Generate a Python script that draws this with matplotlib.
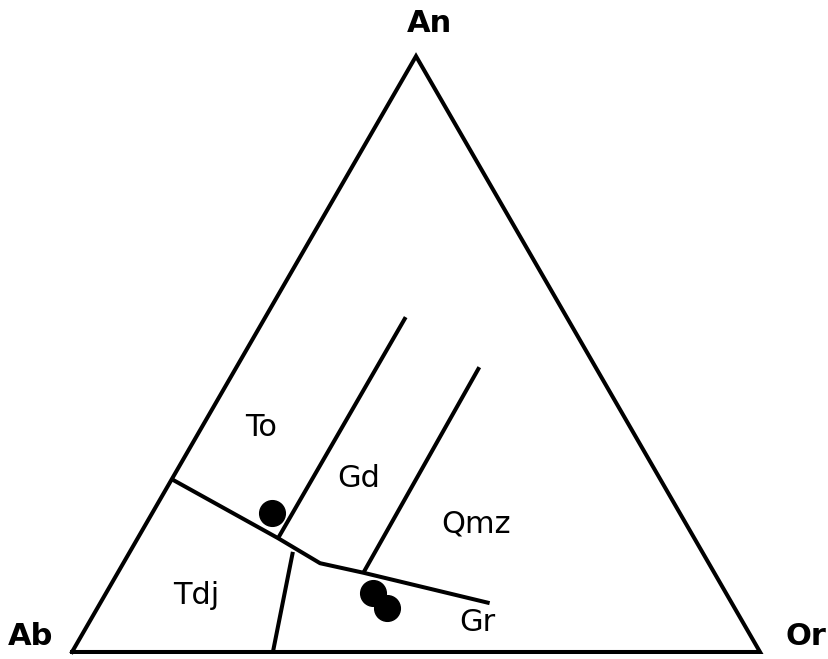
import numpy as np
import matplotlib
matplotlib.use("Agg")
import matplotlib.pyplot as plt

# -----------------------------
# Data (ternary percentages: An, Or; Ab = 100 - An - Or)
# -----------------------------
# Tdj / To / Gd / Qmz lower boundary (polyline)
lower_an = [29.0, 19.1, 14.9, 13.3, 8.2]
lower_or = [0.0, 20.4, 28.6, 35.7, 56.6]

# To / Gd boundary
togd_an = [19.1, 56.2]
togd_or = [20.4, 20.4]

# Gd / Qmz boundary
gdqmz_an = [13.3, 47.8]
gdqmz_or = [35.7, 35.3]

# Tdj / Gr boundary
tdjgr_an = [16.8, 0.0]
tdjgr_or = [23.7, 29.2]

# Samples
sample_an = [23.3, 9.9, 7.4]
sample_or = [17.4, 38.8, 42.1]

# Field labels
field_names = ["To", "Gd", "Qmz", "Tdj", "Gr"]
field_an = [37.6, 29.2, 21.5, 9.4, 4.9]
field_or = [8.7, 27.1, 48.0, 13.3, 56.4]

vertex_names = ["An", "Ab", "Or"]


def tern(an, orth):
    an = np.asarray(an) / 100.0
    orth = np.asarray(orth) / 100.0
    return orth + an / 2.0, an * np.sqrt(3) / 2.0


fig = plt.figure(figsize=(8.29, 6.59), dpi=100)
ax = fig.add_axes([0, 0, 1, 1])
ax.set_xlim(-0.1047, 1.1003)
ax.set_ylim(-0.0102, 0.9477)
ax.axis("off")

lw = 2.9
# Triangle frame
tx, ty = tern([0, 100, 0, 0], [0, 0, 100, 0])
ax.plot(tx, ty, color="black", lw=lw, solid_joinstyle="miter")

for an, orth in [(lower_an, lower_or), (togd_an, togd_or),
                 (gdqmz_an, gdqmz_or), (tdjgr_an, tdjgr_or)]:
    x, y = tern(an, orth)
    ax.plot(x, y, color="black", lw=lw, solid_capstyle="butt")

sx, sy = tern(sample_an, sample_or)
ax.plot(sx, sy, "o", color="black", ms=18.5, ls="none")

fx, fy = tern(field_an, field_or)
for name, x, y in zip(field_names, fx, fy):
    ax.text(x, y, name, fontsize=22, ha="center", va="center")

ax.text(0.520, 0.913, vertex_names[0], fontsize=22, fontweight="bold", ha="center", va="center")
ax.text(-0.0596, 0.023, vertex_names[1], fontsize=22, fontweight="bold", ha="center", va="center")
ax.text(1.067, 0.023, vertex_names[2], fontsize=22, fontweight="bold", ha="center", va="center")

fig.savefig("out.png", dpi=100)
